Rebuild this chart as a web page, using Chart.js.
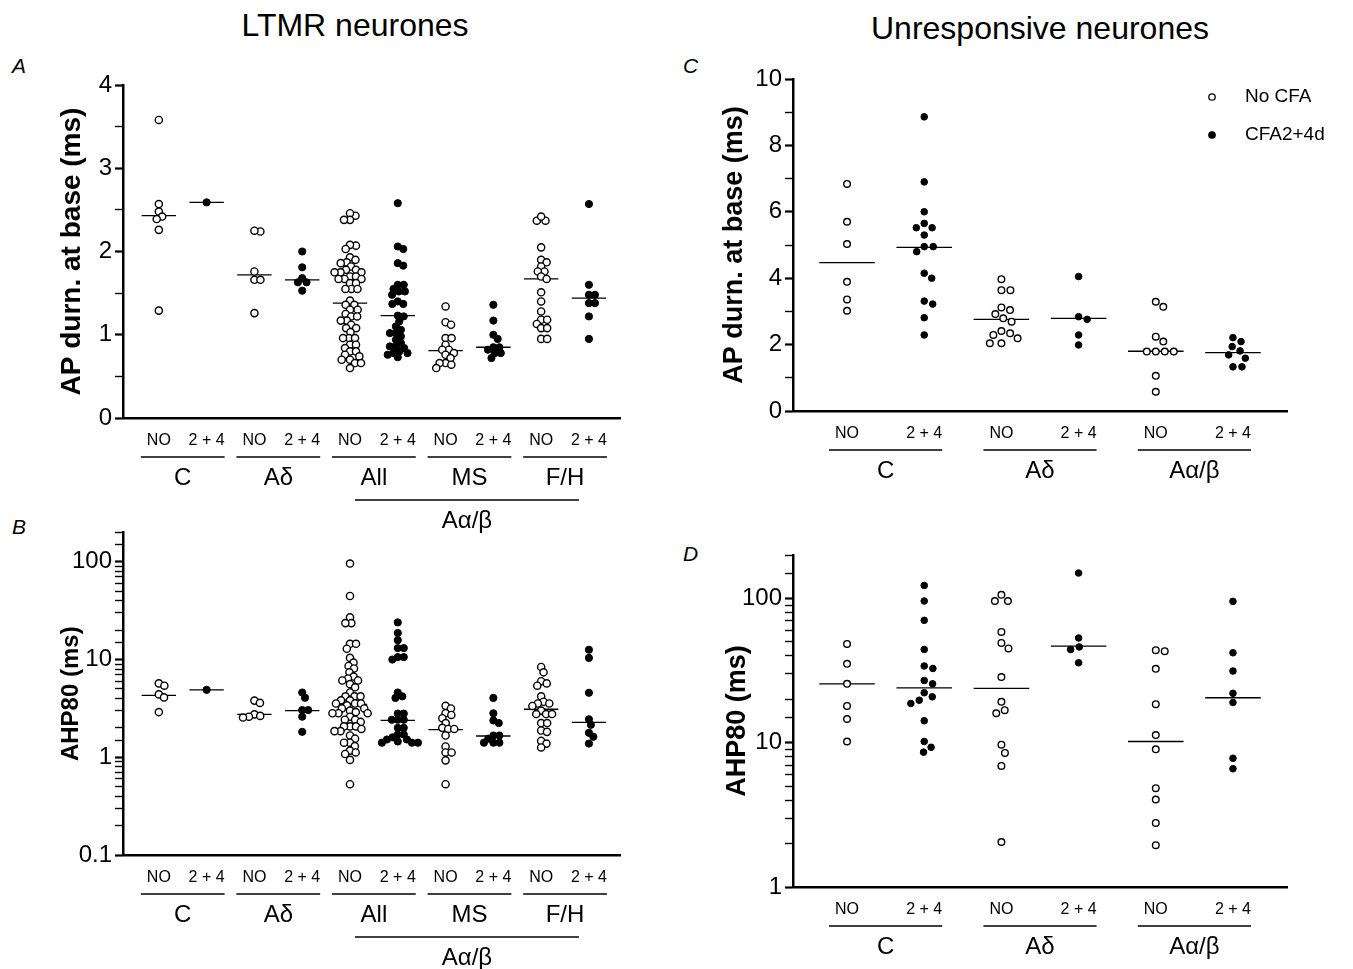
<!DOCTYPE html>
<html>
<head>
<meta charset="utf-8">
<script src="https://cdn.jsdelivr.net/npm/chart.js@4.4.0/dist/chart.umd.min.js"></script>
<style>
  body { margin: 0; background: #fff; }
  #fig { position: relative; width: 1353px; height: 969px; overflow: hidden; font-family: "Liberation Sans", Arial, sans-serif; color: #000; }
  #fig canvas { position: absolute; }
  .title { position: absolute; font-size: 32px; transform: translateX(-50%); white-space: nowrap; }
  .letter { position: absolute; font-size: 21px; font-style: italic; }
</style>
</head>
<body>
<div id="fig">
  <div class="title" style="left:355px; top:7px">LTMR neurones</div>
  <div class="title" style="left:1040px; top:10px">Unresponsive neurones</div>
  <div class="letter" style="left:12px; top:54px">A</div>
  <div class="letter" style="left:12px; top:515px">B</div>
  <div class="letter" style="left:683px; top:54px">C</div>
  <div class="letter" style="left:683px; top:542px">D</div>
  <canvas id="chartA" width="640" height="480" style="left:0; top:60px"></canvas>
  <canvas id="chartB" width="640" height="454" style="left:0; top:515px"></canvas>
  <canvas id="chartC" width="693" height="480" style="left:660px; top:60px"></canvas>
  <canvas id="chartD" width="693" height="454" style="left:660px; top:515px"></canvas>
</div>
<script>
const condLabels = ["NO", "2 + 4"];
const ltmrGroups = ["C", "Aδ", "All", "MS", "F/H"];
const unrespGroups = ["C", "Aδ", "Aα/β"];

// A: LTMR, AP duration at base (ms); one array per fibre group
const apLtmrNo = [
  [3.58, 2.57, 2.48, 2.42, 2.39, 2.26, 1.29],
  [2.24, 2.25, 1.76, 1.66, 1.66, 1.26],
  [2.43, 2.46, 2.38, 2.38, 2.07, 2.08, 2.03, 1.93, 1.9, 1.87, 1.86, 1.82, 1.78, 1.78,
   1.75, 1.75, 1.75, 1.7, 1.7, 1.67, 1.67, 1.67, 1.62, 1.62, 1.55, 1.55, 1.55, 1.41,
   1.36, 1.36, 1.3, 1.3, 1.25, 1.22, 1.22, 1.17, 1.17, 1.12, 1.08, 1.08, 1.03, 0.96,
   0.96, 0.96, 0.88, 0.88, 0.84, 0.8, 0.8, 0.76, 0.74, 0.7, 0.7, 0.66, 0.66, 0.6],
  [1.34, 1.15, 1.12, 0.96, 0.96, 0.88, 0.82, 0.82, 0.78, 0.76, 0.72, 0.66, 0.66, 0.64, 0.6],
  [2.37, 2.37, 2.42, 2.05, 1.9, 1.87, 1.82, 1.76, 1.76, 1.7, 1.67, 1.51, 1.4, 1.28,
   1.18, 1.18, 1.13, 1.08, 1.08, 0.95, 0.95],
];
const apLtmrCfa = [
  [2.59],
  [2.0, 1.81, 1.68, 1.63, 1.63, 1.53],
  [2.58, 2.06, 2.03, 1.86, 1.83, 1.6, 1.6, 1.55, 1.52, 1.52, 1.48, 1.4, 1.37, 1.37,
   1.23, 1.22, 1.16, 1.1, 1.06, 1.02, 1.02, 0.98, 0.94, 0.9, 0.86, 0.86, 0.84, 0.8,
   0.78, 0.78, 0.76, 0.73],
  [1.36, 1.17, 1.0, 0.95, 0.85, 0.85, 0.82, 0.78, 0.78, 0.72],
  [2.57, 1.6, 1.48, 1.48, 1.38, 1.38, 1.22, 0.95],
];
const apLtmrMedNo = [2.43, 1.72, 1.38, 0.81, 1.67];
const apLtmrMedCfa = [2.59, 1.66, 1.23, 0.85, 1.44];

// B: LTMR, AHP80 (ms)
const ahpLtmrNo = [
  [5.7, 5.4, 4.4, 4.1, 2.9],
  [3.8, 3.6, 2.75, 2.6, 2.55, 2.65],
  [96, 44.7, 27, 23.6, 23.6, 14.5, 14.5, 12.9, 10.4, 9.3, 8.6, 8.1, 7.4, 6.7, 6.4,
   6.1, 6.1, 5.6, 5.2, 4.6, 4.2, 4.2, 4.2, 3.83, 3.83, 3.55, 3.55, 3.55, 3.4, 3.16,
   3.16, 3.0, 2.9, 2.82, 2.82, 2.82, 2.6, 2.42, 2.42, 2.3, 2.07, 2.07, 2.07, 1.95,
   1.85, 1.85, 1.67, 1.55, 1.41, 1.41, 1.3, 1.17, 1.12, 1.08, 0.94, 0.53],
  [3.36, 3.16, 2.82, 2.71, 2.51, 2.24, 2.0, 1.95, 1.95, 1.67, 1.29, 1.12, 1.12, 0.93, 0.53],
  [8.4, 7.4, 6.0, 5.7, 5.4, 4.2, 3.7, 3.55, 3.55, 3.35, 3.0, 2.77, 2.77, 2.77, 2.24,
   2.24, 1.88, 1.82, 1.47, 1.38, 1.26],
];
const ahpLtmrCfa = [
  [4.9],
  [4.6, 4.07, 3.04, 3.04, 2.6, 1.82],
  [24, 18.7, 15.8, 13.1, 13.1, 10.6, 10.6, 10, 4.6, 4.2, 4.05, 2.8, 2.8, 2.42, 2.42,
   2.42, 2.0, 2.0, 1.71, 1.71, 1.6, 1.52, 1.52, 1.45, 1.41, 1.41, 1.41],
  [4.05, 2.82, 2.38, 2.24, 1.67, 1.67, 1.55, 1.41, 1.41, 1.41],
  [12.6, 10.4, 4.57, 2.45, 2.15, 1.78, 1.62, 1.38],
];
const ahpLtmrMedNo = [4.3, 2.75, 3.47, 1.92, 3.1];
const ahpLtmrMedCfa = [4.9, 3.0, 2.38, 1.65, 2.28];

// C: unresponsive, AP duration at base (ms)
const apUnrNo = [
  [6.84, 5.7, 5.03, 3.89, 3.36, 3.02],
  [3.97, 3.64, 3.64, 3.12, 3.04, 2.92, 2.79, 2.69, 2.41, 2.34, 2.29, 2.19, 2.04, 2.04],
  [3.29, 3.14, 2.24, 2.09, 1.79, 1.79, 1.79, 1.79, 1.06, 0.58],
];
const apUnrCfa = [
  [8.86, 6.9, 6.0, 5.52, 5.52, 5.65, 5.3, 4.95, 4.95, 4.8, 4.15, 4.0, 3.31, 3.22, 2.81, 2.29],
  [4.05, 2.84, 2.76, 2.29, 1.99],
  [2.21, 2.09, 1.94, 1.81, 1.69, 1.59, 1.33, 1.33],
];
const apUnrMedNo = [4.47, 2.76, 1.8];
const apUnrMedCfa = [4.93, 2.79, 1.76];

// D: unresponsive, AHP80 (ms)
const ahpUnrNo = [
  [48.4, 35.2, 25.6, 18, 14.6, 10.2],
  [106, 96, 96, 58.6, 49.2, 45, 28.5, 19.2, 16.8, 16, 9.7, 8.5, 6.9, 2.05],
  [43.1, 43.8, 32.5, 18.5, 11.3, 9.0, 4.84, 4.04, 2.78, 1.95],
];
const ahpUnrCfa = [
  [123, 96, 70.5, 44.3, 34, 32.7, 27, 25.6, 22.2, 20.8, 19.7, 18.7, 14.2, 10.2, 9.3, 8.6],
  [150, 53.2, 46.1, 44.3, 35.8],
  [95.4, 42, 31.4, 22, 19, 7.8, 6.6],
];
const ahpUnrMedNo = [25.6, 23.8, 10.2];
const ahpUnrMedCfa = [24, 46.7, 20.5];

const FONT = '"Liberation Sans", Arial, sans-serif';
Chart.defaults.font.family = FONT;
Chart.defaults.color = "#000";

// spread points of one column sideways so they do not overlap (beeswarm)
const swarm = (values, toPx, diam) => {
  const order = values.map((v, i) => i).sort((a, b) => values[b] - values[a]);
  const placed = [];
  const out = [];
  order.forEach((i) => {
    const py = toPx(values[i]);
    const near = placed.filter((p) => Math.abs(p.y - py) < diam);
    const cands = [0];
    near.forEach((p) => {
      const dx = Math.sqrt(diam * diam - (p.y - py) ** 2);
      cands.push(p.x + dx, p.x - dx);
    });
    cands.sort((a, b) => Math.abs(a) - Math.abs(b));
    const x = cands.find((c) =>
      near.every((p) => (p.x - c) ** 2 + (p.y - py) ** 2 >= diam * diam - 0.01)
    );
    placed.push({ x, y: py });
    out[i] = x;
  });
  return out;
};

const groupAxis = {
  id: "groupAxis",
  afterDraw(chart, args, opts) {
    const { ctx, chartArea } = chart;
    const x = chart.scales.x;
    const base = chartArea.bottom;
    ctx.save();
    ctx.fillStyle = "#000";
    ctx.strokeStyle = "#000";
    ctx.lineWidth = 1.3;
    ctx.textAlign = "center";
    ctx.textBaseline = "middle";
    ctx.font = "24px " + FONT;
    opts.groups.forEach((name, g) => {
      const x0 = x.getPixelForValue(2 * g) - 18;
      const x1 = x.getPixelForValue(2 * g + 1) + 18;
      ctx.beginPath();
      ctx.moveTo(x0, base + 39);
      ctx.lineTo(x1, base + 39);
      ctx.stroke();
      ctx.fillText(name, (x0 + x1) / 2, base + 60);
    });
    (opts.supers || []).forEach((s) => {
      const x0 = x.getPixelForValue(s.from) + 5;
      const x1 = x.getPixelForValue(s.to) - 10;
      ctx.beginPath();
      ctx.moveTo(x0, base + 82);
      ctx.lineTo(x1, base + 82);
      ctx.stroke();
      ctx.fillText(s.label, (x0 + x1) / 2, base + 103);
    });
    ctx.restore();
  },
};

const keyLegend = {
  id: "keyLegend",
  afterDraw(chart, args, opts) {
    if (!opts.show) return;
    const { ctx } = chart;
    ctx.save();
    ctx.font = "19px " + FONT;
    ctx.textBaseline = "middle";
    ctx.textAlign = "left";
    chart.data.datasets.slice(0, 2).forEach((ds, k) => {
      const y = opts.y + k * opts.gap;
      ctx.beginPath();
      ctx.arc(opts.x, y, 3.2, 0, Math.PI * 2);
      ctx.fillStyle = ds.pointBackgroundColor;
      ctx.fill();
      ctx.lineWidth = 1.3;
      ctx.strokeStyle = "#000";
      ctx.stroke();
      ctx.fillStyle = "#000";
      ctx.fillText(ds.label, opts.x + 33, y);
    });
    ctx.restore();
  },
};

const makePanel = (id, p) => {
  const plotH = p.height - p.padTop - p.xH;
  const plotW = p.width - p.yW - p.padRight;
  const pxPerX = plotW / (p.xMax - p.xMin);
  const isLog = p.yType === "logarithmic";
  const toPx = isLog
    ? (v) => (Math.log10(v) * plotH) / (Math.log10(p.yMax) - Math.log10(p.yMin))
    : (v) => (v * plotH) / (p.yMax - p.yMin);

  const points = (groups, cond) =>
    groups.flatMap((vals, g) => {
      const offs = swarm(vals, toPx, p.diam);
      return vals.map((v, k) => ({ x: 2 * g + cond + offs[k] / pxPerX, y: v }));
    });

  const medLine = [];
  p.medNo.forEach((m, g) => {
    [[2 * g, m], [2 * g + 1, p.medCfa[g]]].forEach(([c, v]) => {
      medLine.push({ x: c - 0.36, y: v }, { x: c + 0.36, y: v }, { x: c, y: null });
    });
  });

  const nCats = p.groups.length * 2;
  const yTicks = isLog
    ? {
        callback: (v) => {
          const l = Math.log10(v);
          return Math.abs(l - Math.round(l)) < 1e-6 ? String(v) : "";
        },
      }
    : {
        stepSize: p.step,
        callback: (v) => (Math.abs(v / p.labelStep - Math.round(v / p.labelStep)) < 1e-6 ? v : ""),
      };

  return new Chart(document.getElementById(id), {
    type: "scatter",
    data: {
      datasets: [
        {
          label: "No CFA",
          data: points(p.no, 0),
          pointRadius: p.radius,
          pointBackgroundColor: "#fff",
          pointBorderColor: "#000",
          pointBorderWidth: 1.4,
          order: 1,
        },
        {
          label: "CFA2+4d",
          data: points(p.cfa, 1),
          pointRadius: p.radius,
          pointBackgroundColor: "#000",
          pointBorderColor: "#000",
          pointBorderWidth: 1,
          order: 1,
        },
        {
          type: "line",
          label: "median",
          data: medLine,
          borderColor: "#000",
          borderWidth: 1.3,
          pointRadius: 0,
          spanGaps: false,
          order: 2,
        },
      ],
    },
    options: {
      responsive: false,
      animation: false,
      events: [],
      layout: { padding: { top: p.padTop, right: p.padRight, left: 0, bottom: 0 } },
      scales: {
        x: {
          type: "linear",
          min: p.xMin,
          max: p.xMax,
          border: { display: true, color: "#000", width: 2.5 },
          grid: { display: false, drawTicks: false },
          afterBuildTicks: (sc) => {
            sc.ticks = Array.from({ length: nCats }, (_, i) => ({ value: i }));
          },
          ticks: {
            autoSkip: false,
            maxRotation: 0,
            padding: 13,
            font: { size: 16 },
            callback: (v, i) => condLabels[i % 2],
          },
          afterFit: (sc) => {
            sc.height = p.xH;
          },
        },
        y: {
          type: p.yType,
          min: p.yMin,
          max: p.yMax,
          border: { display: true, color: "#000", width: 2.5 },
          grid: {
            display: true,
            drawOnChartArea: false,
            drawTicks: true,
            tickLength: 8,
            color: "#000",
            tickWidth: (c) => (c.tick && c.tick.label !== "" ? 2.2 : 1.4),
          },
          ticks: { autoSkip: false, padding: 3, font: { size: 24 }, ...yTicks },
          title: {
            display: true,
            text: p.yTitle,
            font: { size: p.titleSize, weight: "bold" },
            padding: { top: p.titlePad, bottom: 0 },
          },
          afterFit: (sc) => {
            sc.width = p.yW;
          },
        },
      },
      plugins: {
        legend: { display: false },
        tooltip: { enabled: false },
        groupAxis: { groups: p.groups, supers: p.supers },
        keyLegend: { show: !!p.legend, x: 552, y: 37, gap: 38 },
      },
    },
    plugins: [groupAxis, keyLegend],
  });
};

makePanel("chartA", {
  width: 640, height: 480, padTop: 25, padRight: 20, yW: 123, xH: 122,
  xMin: -0.75, xMax: 9.65, yType: "linear", yMin: 0, yMax: 4, step: 0.5, labelStep: 1,
  yTitle: "AP durn. at base (ms)", titleSize: 28, titlePad: 55, diam: 6, radius: 3.6,
  groups: ltmrGroups, supers: [{ label: "Aα/β", from: 4, to: 9 }],
  no: apLtmrNo, cfa: apLtmrCfa, medNo: apLtmrMedNo, medCfa: apLtmrMedCfa,
});

makePanel("chartB", {
  width: 640, height: 454, padTop: 10, padRight: 20, yW: 123, xH: 114,
  xMin: -0.75, xMax: 9.65, yType: "logarithmic", yMin: 0.1, yMax: 200,
  yTitle: "AHP80 (ms)", titleSize: 24, titlePad: 57, diam: 6, radius: 3.6,
  groups: ltmrGroups, supers: [{ label: "Aα/β", from: 4, to: 9 }],
  no: ahpLtmrNo, cfa: ahpLtmrCfa, medNo: ahpLtmrMedNo, medCfa: ahpLtmrMedCfa,
});

makePanel("chartC", {
  width: 693, height: 480, padTop: 19, padRight: 66, yW: 133, xH: 129,
  xMin: -0.7, xMax: 5.7, yType: "linear", yMin: 0, yMax: 10, step: 1, labelStep: 2,
  yTitle: "AP durn. at base (ms)", titleSize: 27, titlePad: 58, diam: 9, radius: 3.3,
  groups: unrespGroups, legend: true,
  no: apUnrNo, cfa: apUnrCfa, medNo: apUnrMedNo, medCfa: apUnrMedCfa,
});

makePanel("chartD", {
  width: 693, height: 454, padTop: 40, padRight: 66, yW: 133, xH: 82,
  xMin: -0.7, xMax: 5.7, yType: "logarithmic", yMin: 1, yMax: 200,
  yTitle: "AHP80 (ms)", titleSize: 27, titlePad: 61, diam: 9, radius: 3.3,
  groups: unrespGroups,
  no: ahpUnrNo, cfa: ahpUnrCfa, medNo: ahpUnrMedNo, medCfa: ahpUnrMedCfa,
});
</script>
</body>
</html>
